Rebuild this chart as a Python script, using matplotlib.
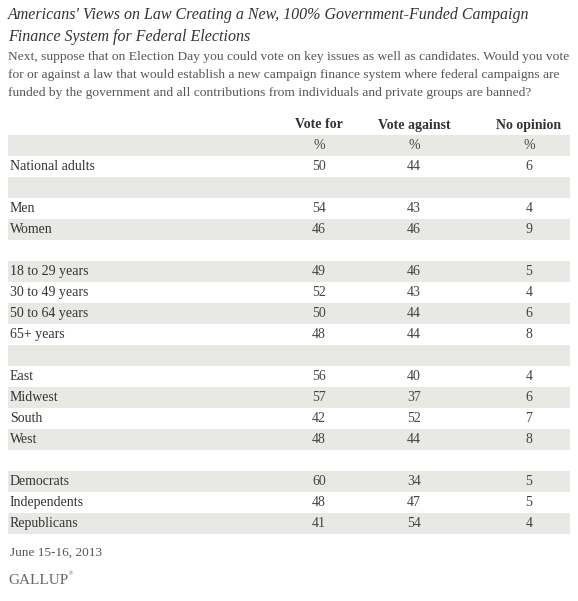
import matplotlib
matplotlib.use("Agg")
import matplotlib.pyplot as plt
from matplotlib.patches import Rectangle

title_lines = ["Americans' Views on Law Creating a New, 100% Government-Funded Campaign",
               "Finance System for Federal Elections"]
subtitle_lines = ["Next, suppose that on Election Day you could vote on key issues as well as candidates. Would you vote",
                  "for or against a law that would establish a new campaign finance system where federal campaigns are",
                  "funded by the government and all contributions from individuals and private groups are banned?"]
columns = ["Vote for", "Vote against", "No opinion"]
row_labels = ["", "National adults", "", "Men", "Women", "", "18 to 29 years", "30 to 49 years",
              "50 to 64 years", "65+ years", "", "East", "Midwest", "South", "West", "",
              "Democrats", "Independents", "Republicans"]
vote_for = ["%", 50, "", 54, 46, "", 49, 52, 50, 48, "", 56, 57, 42, 48, "", 60, 48, 41]
vote_against = ["%", 44, "", 43, 46, "", 46, 43, 44, 44, "", 40, 37, 52, 44, "", 34, 47, 54]
no_opinion = ["%", 6, "", 4, 9, "", 5, 4, 6, 8, "", 4, 6, 7, 8, "", 5, 5, 4]
footer = "June 15-16, 2013"

W, H = 578, 601
fig = plt.figure(figsize=(W/100, H/100), dpi=100)
ax = fig.add_axes([0, 0, 1, 1])
ax.set_xlim(0, W); ax.set_ylim(H, 0); ax.axis("off")
serif = "Liberation Serif"
dark = "#333333"

for i, t in enumerate(title_lines):
    ax.text(8, 15 + i*22, t, fontsize=11.5, style="italic", family=serif, color=dark, va="center")
for i, t in enumerate(subtitle_lines):
    ax.text(8, 57 + i*18, t, fontsize=9.7, family=serif, color="#555555", va="center")

colx = [319, 414, 529]
for x, c in zip(colx, columns):
    ax.text(x, 125, c, fontsize=10, weight="bold", family=serif, color=dark, ha="center", va="center")

top, rh = 135, 21
for i, lab in enumerate(row_labels):
    y0 = top + i*rh
    if i % 2 == 0:
        ax.add_patch(Rectangle((8, y0), 562, rh, color="#e8e8e4", lw=0))
    yc = y0 + rh/2
    if lab:
        ax.text(10, yc, lab, fontsize=10, family=serif, color=dark, va="center")
    for x, vals in zip(colx, (vote_for, vote_against, no_opinion)):
        v = vals[i]
        if v != "":
            ax.text(x, yc, str(v), fontsize=10, family=serif, color="#444444", ha="center", va="center")

ax.text(10, 553, footer, fontsize=9.5, family=serif, color="#555555", va="center")
ax.text(8, 580, "GALLUP", fontsize=11, family=serif, color="#666666", va="center")
ax.text(69, 574, "®", fontsize=4, family=serif, color="#666666", va="center")

fig.savefig("out.png", dpi=100)
